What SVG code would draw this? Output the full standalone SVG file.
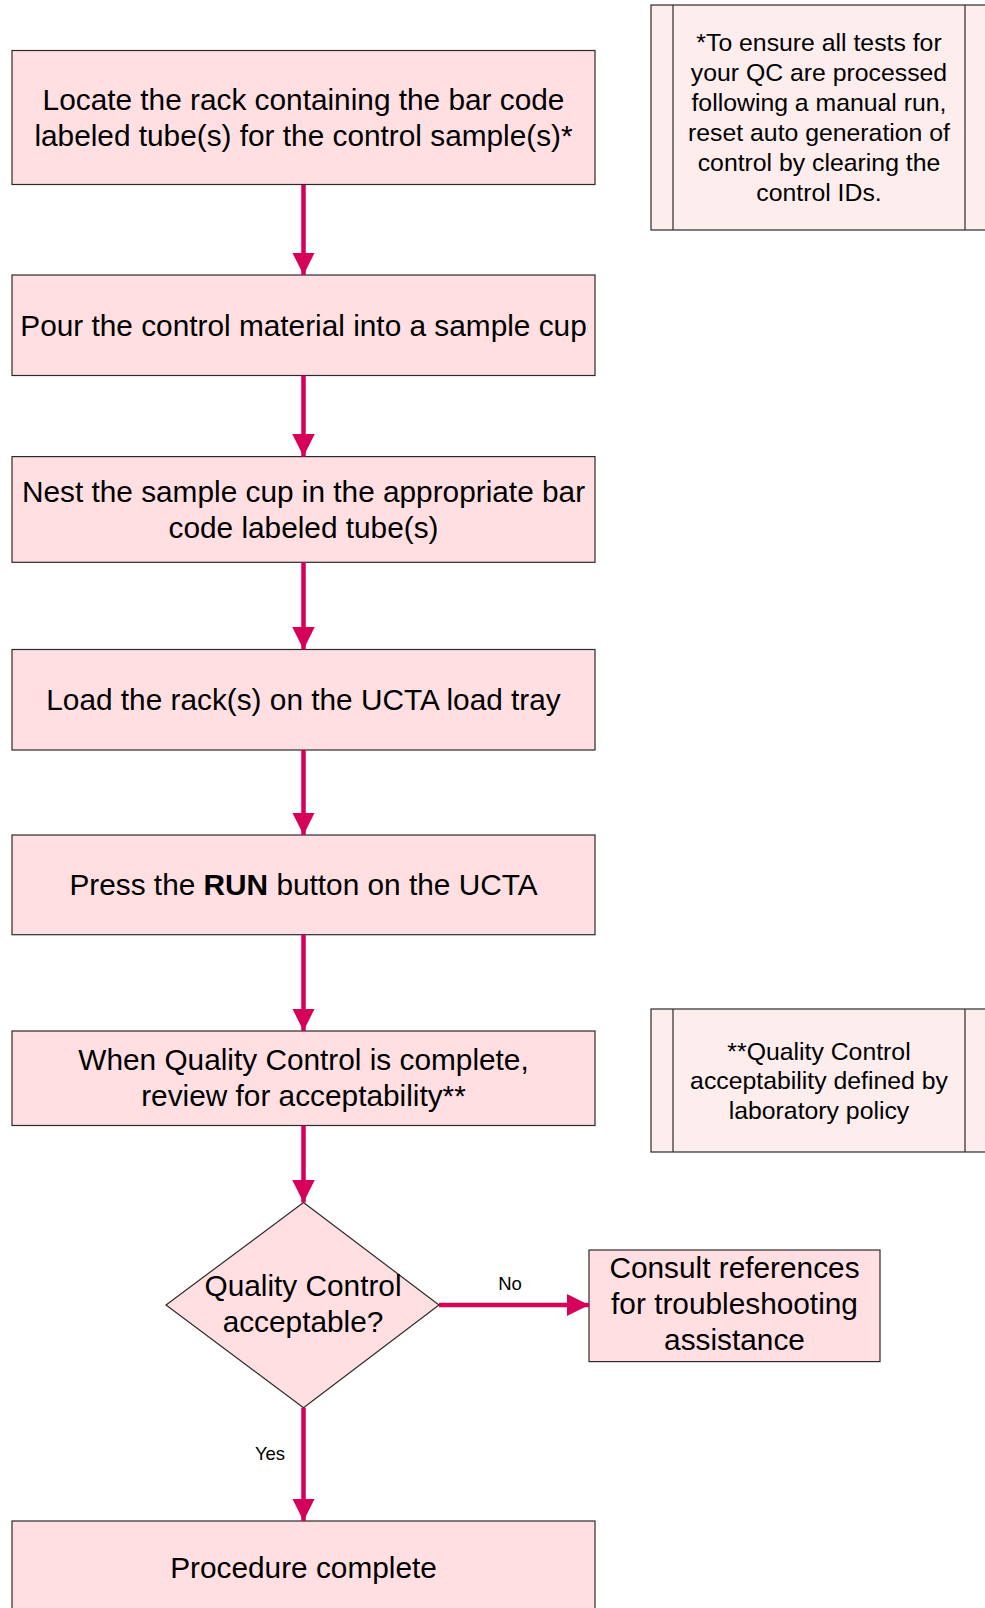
<svg xmlns="http://www.w3.org/2000/svg" width="985" height="1608" viewBox="0 0 985 1608">
<style>
.box{fill:#FFDFE1;stroke:#2b2b2b;stroke-width:1.2}
.note{fill:#FDEDED;stroke:#2b2b2b;stroke-width:1.2}
.t{font-family:"Liberation Sans",Arial,sans-serif;font-size:29.8px;fill:#000;text-anchor:middle}
.n{font-family:"Liberation Sans",Arial,sans-serif;font-size:24.8px;fill:#000;text-anchor:middle}
.l{font-family:"Liberation Sans",Arial,sans-serif;font-size:18.5px;fill:#000;text-anchor:middle}
.c{stroke:#D6005B;stroke-width:4.5;fill:none}
</style>
<defs>
<marker id="ah" markerWidth="5" markerHeight="5" refX="5" refY="2.5" orient="auto" markerUnits="strokeWidth" viewBox="0 0 5 5">
<path d="M0,0 L5,2.5 L0,5 Z" fill="#D6005B"/>
</marker>
</defs>
<rect width="985" height="1608" fill="#fff"/>
<g id="note1">
<rect class="note" x="651" y="5" width="336" height="225"/>
<line x1="673" y1="5" x2="673" y2="230" stroke="#2b2b2b" stroke-width="1.2"/>
<line x1="965" y1="5" x2="965" y2="230" stroke="#2b2b2b" stroke-width="1.2"/>
<text class="n" x="819" y="51.2">*To ensure all tests for</text>
<text class="n" x="819" y="81.2">your QC are processed</text>
<text class="n" x="819" y="111.2">following a manual run,</text>
<text class="n" x="819" y="141.2">reset auto generation of</text>
<text class="n" x="819" y="171.2">control by clearing the</text>
<text class="n" x="819" y="201.2">control IDs.</text>
</g>
<g id="note2">
<rect class="note" x="651" y="1009" width="336" height="143"/>
<line x1="673" y1="1009" x2="673" y2="1152" stroke="#2b2b2b" stroke-width="1.2"/>
<line x1="965" y1="1009" x2="965" y2="1152" stroke="#2b2b2b" stroke-width="1.2"/>
<text class="n" x="819" y="1059.5">**Quality Control</text>
<text class="n" x="819" y="1089.2">acceptability defined by</text>
<text class="n" x="819" y="1118.9">laboratory policy</text>
</g>
<g id="step1">
<rect class="box" x="12" y="50.5" width="583" height="134"/>
<text class="t" x="303.5" y="109.9">Locate the rack containing the bar code</text>
<text class="t" x="303.5" y="145.9">labeled tube(s) for the control sample(s)*</text>
</g>
<g id="step2">
<rect class="box" x="12" y="275" width="583" height="100.5"/>
<text class="t" x="303.5" y="335.7">Pour the control material into a sample cup</text>
</g>
<g id="step3">
<rect class="box" x="12" y="456.6" width="583" height="105.7"/>
<text class="t" x="303.5" y="501.9">Nest the sample cup in the appropriate bar</text>
<text class="t" x="303.5" y="537.9">code labeled tube(s)</text>
</g>
<g id="step4">
<rect class="box" x="12" y="649.5" width="583" height="100.5"/>
<text class="t" x="303.5" y="710.1">Load the rack(s) on the UCTA load tray</text>
</g>
<g id="step5">
<rect class="box" x="12" y="835" width="583" height="99.7"/>
<text class="t" x="303.5" y="895.2">Press the <tspan font-weight="bold">RUN</tspan> button on the UCTA</text>
</g>
<g id="step6">
<rect class="box" x="12" y="1031" width="583" height="94.5"/>
<text class="t" x="303.5" y="1070.4">When Quality Control is complete,</text>
<text class="t" x="303.5" y="1106.4">review for acceptability**</text>
</g>
<g id="decision">
<polygon class="box" points="303.5,1202.5 439,1305 303.5,1407.7 166,1305"/>
<text class="t" x="303" y="1296.4">Quality Control</text>
<text class="t" x="303" y="1332.4">acceptable?</text>
</g>
<g id="consult">
<rect class="box" x="589" y="1250" width="291" height="111.6"/>
<text class="t" x="734.5" y="1278.4">Consult references</text>
<text class="t" x="734.5" y="1314.4">for troubleshooting</text>
<text class="t" x="734.5" y="1350.4">assistance</text>
</g>
<g id="done">
<rect class="box" x="12" y="1521" width="583" height="95"/>
<text class="t" x="303.5" y="1578.4">Procedure complete</text>
</g>
<g id="connectors">
<line class="c" x1="303.5" y1="185" x2="303.5" y2="275" marker-end="url(#ah)"/>
<line class="c" x1="303.5" y1="375.5" x2="303.5" y2="456.6" marker-end="url(#ah)"/>
<line class="c" x1="303.5" y1="562.3" x2="303.5" y2="649.5" marker-end="url(#ah)"/>
<line class="c" x1="303.5" y1="750" x2="303.5" y2="835" marker-end="url(#ah)"/>
<line class="c" x1="303.5" y1="934.7" x2="303.5" y2="1031" marker-end="url(#ah)"/>
<line class="c" x1="303.5" y1="1125.5" x2="303.5" y2="1202.5" marker-end="url(#ah)"/>
<line class="c" x1="303.5" y1="1407.7" x2="303.5" y2="1521" marker-end="url(#ah)"/>
<line class="c" x1="439" y1="1305" x2="589" y2="1305" marker-end="url(#ah)"/>
<text class="l" x="510" y="1290">No</text>
<text class="l" x="270" y="1460">Yes</text>
</g>
</svg>
